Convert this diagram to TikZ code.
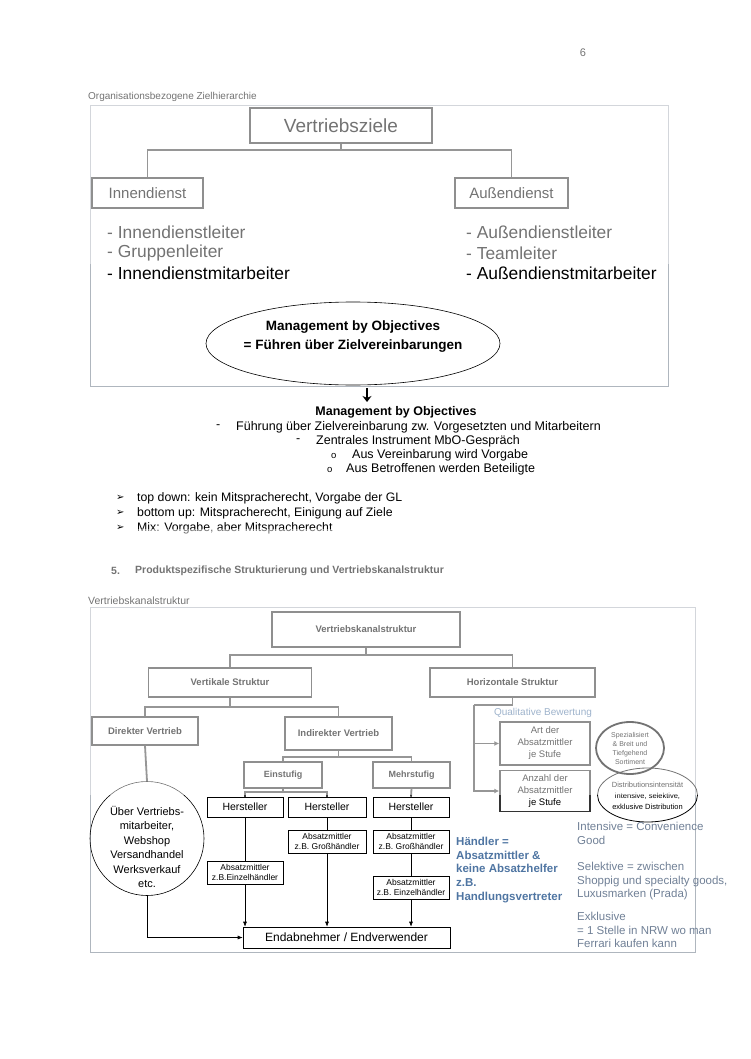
\documentclass[tikz,border=0pt]{standalone}
\usepackage{fontspec}
\setmainfont{Liberation Sans}
\newfontfamily\symfont{DejaVu Sans}
\usepackage{tikz}
\usetikzlibrary{positioning, arrows, arrows.meta, shapes.geometric}
\definecolor{handblue}{RGB}{79,117,162}
\definecolor{notegray}{RGB}{112,128,150}
\definecolor{framegray}{RGB}{175,182,190}
\newcommand{\fsz}[2]{\fontsize{#1}{#2}\selectfont}
\tikzset{
  dimbox/.style={draw=black!80, line width=1.5pt, inner sep=0pt, align=center},
  thinbox/.style={draw, line width=0.6pt, inner sep=0pt, align=center},
  txt/.style={anchor=west, inner sep=0pt},
  conn/.style={draw=black!75, line width=1.8pt},
  flow/.style={draw, line width=0.6pt, -{Latex[length=5pt,width=4pt]}},
  haze/.style={fill=white, opacity=0.45},
}

\begin{document}
\begin{tikzpicture}[x=1pt,y=-1pt]
\useasboundingbox (0,0) rectangle (750,1059);

% page number
\node[inner sep=0pt, font=\fsz{11}{13}] (pagenr) at (583,53) {6};

% Zielhierarchie
\node[txt, font=\fsz{10}{12}] (cap1) at (88,97) {Organisationsbezogene Zielhierarchie};
\draw[framegray, line width=0.9pt] (90,105) rectangle (668,386);
\node[dimbox, minimum width=182, minimum height=35, font=\fsz{19}{22}] (ziele) at (341,125.5) {Vertriebsziele};
\node[dimbox, minimum width=111, minimum height=30, font=\fsz{15}{18}] (innen) at (147.5,193) {Innendienst};
\node[dimbox, minimum width=113, minimum height=30, font=\fsz{15}{18}] (aussen) at (511.5,193) {Außendienst};
\coordinate (zbar) at (341,150);
\draw[conn] (ziele.south) -- (zbar);
\draw[conn] (innen.north) |- (zbar) -| (aussen.north);

\node[txt, font=\fsz{17.4}{20}] (il1) at (107,232) {- Innendienstleiter};
\node[txt, font=\fsz{17.4}{20}] (il2) at (107,253) {- Gruppenleiter};
\node[txt, font=\fsz{17.4}{20}] (il3) at (107,273) {- Innendienstmitarbeiter};
\node[txt, font=\fsz{17.4}{20}] (al1) at (466,232) {- Außendienstleiter};
\node[txt, font=\fsz{17.4}{20}] (al2) at (466,253) {- Teamleiter};
\node[txt, font=\fsz{17.4}{20}] (al3) at (466,273) {- Außendienstmitarbeiter};

\node[ellipse, draw, line width=0.6pt, minimum width=294, minimum height=83] (mboring) at (353,343.5) {};
\node[align=center, inner sep=0pt, font=\bfseries\fsz{13.5}{19}] (mbo) at (353,337) {Management by Objectives\\= Führen über Zielvereinbarungen};

% MbO text
\coordinate (arrtop) at (367,388);
\coordinate (arrbot) at (367,402);
\draw[line width=2.2pt, -{Stealth[length=6pt,width=9pt]}] (arrtop) -- (arrbot);
\node[inner sep=0pt, font=\bfseries\fsz{12.5}{14}] (mbohead) at (396,412) {Management by Objectives};
\node[txt, font=\fsz{12.5}{14}] (d1) at (216,427) {-};
\node[txt, font=\fsz{12.5}{14}] (t1) at (236,427) {Führung über Zielvereinbarung zw. Vorgesetzten und Mitarbeitern};
\node[txt, font=\fsz{12.5}{14}] (d2) at (296,441) {-};
\node[txt, font=\fsz{12.5}{14}] (t2) at (316,441) {Zentrales Instrument MbO-Gespräch};
\node[txt, font=\fsz{9.5}{11}] (o1) at (331,456) {o};
\node[txt, font=\fsz{12.5}{14}] (t3) at (352,455) {Aus Vereinbarung wird Vorgabe};
\node[txt, font=\fsz{9.5}{11}] (o2) at (327,470) {o};
\node[txt, font=\fsz{12.5}{14}] (t4) at (346,469) {Aus Betroffenen werden Beteiligte};

\node[txt, font=\symfont\fsz{10}{12}] (b1) at (116,498) {➢};
\node[txt, font=\fsz{12.3}{14}] (bt1) at (137,498) {top down: kein Mitspracherecht, Vorgabe der GL};
\node[txt, font=\symfont\fsz{10}{12}] (b2) at (116,513) {➢};
\node[txt, font=\fsz{12.3}{14}] (bt2) at (137,513) {bottom up: Mitspracherecht, Einigung auf Ziele};
\node[txt, font=\symfont\fsz{10}{12}] (b3) at (116,528) {➢};
\node[txt, font=\fsz{12.3}{14}] (bt3) at (137,528) {Mix: Vorgabe, aber Mitspracherecht};

% Vertriebskanalstruktur
\node[txt, font=\bfseries\fsz{10.5}{13}] (h5nr) at (111,571) {5.};
\node[txt, font=\bfseries\fsz{10.5}{13}] (h5) at (135,571) {Produktspezifische Strukturierung und Vertriebskanalstruktur};
\node[txt, font=\fsz{10.5}{13}] (cap2) at (88,601) {Vertriebskanalstruktur};
\draw[framegray, line width=0.9pt] (90,607) rectangle (695,952);

\node[dimbox, minimum width=188, minimum height=35, font=\bfseries\fsz{9.5}{12}] (vks) at (366,629.5) {Vertriebskanalstruktur};
\node[dimbox, minimum width=163, minimum height=29, font=\bfseries\fsz{9.5}{12}] (vert) at (230,682.5) {Vertikale Struktur};
\node[dimbox, minimum width=165, minimum height=29, font=\bfseries\fsz{9.5}{12}] (hor) at (512.5,682.5) {Horizontale Struktur};
\node[dimbox, minimum width=106, minimum height=28, font=\bfseries\fsz{9.5}{12}] (dir) at (145,731) {Direkter Vertrieb};
\node[dimbox, minimum width=107, minimum height=33, font=\bfseries\fsz{9.5}{12}] (ind) at (338.5,733.5) {Indirekter Vertrieb};
\node[dimbox, minimum width=78, minimum height=26, font=\bfseries\fsz{9}{11}] (ein) at (283,775) {Einstufig};
\node[dimbox, minimum width=77, minimum height=26, font=\bfseries\fsz{9}{11}] (mehr) at (411.5,775) {Mehrstufig};

\coordinate (vbar) at (366,655);
\draw[conn] (vks.south) -- (vbar);
\draw[conn] (vert.north) |- (vbar) -| (hor.north);
\coordinate (sbar) at (230,707);
\draw[conn] (vert.south) -- (sbar);
\draw[conn] (dir.north) |- (sbar) -| (ind.north);
\coordinate (ibar) at (338.5,757);
\draw[conn] (ind.south) -- (ibar);
\draw[conn] (ein.north) |- (ibar) -| (mehr.north);

\node[font=\fsz{10}{12}, text=handblue, inner sep=0pt] (qual) at (543,713) {Qualitative Bewertung};
\node[dimbox, minimum width=90, minimum height=43, font=\fsz{9.5}{12}] (art) at (545,743.5) {Art der\\Absatzmittler\\je Stufe};
\node[dimbox, minimum width=90, minimum height=41, font=\fsz{9.5}{12}] (anz) at (545,791) {Anzahl der\\Absatzmittler\\je Stufe};
\node[ellipse, draw, line width=1.8pt, minimum width=68, minimum height=52] (ring1) at (630,748) {};
\node[align=center, inner sep=0pt, font=\fsz{7}{9}] (sort) at (630,748) {Spezialisiert\\\& Breit und\\Tiefgehend\\Sortiment};
\node[ellipse, draw, line width=0.8pt, minimum width=100, minimum height=54] (ring2) at (647.5,795) {};
\node[align=center, inner sep=0pt, font=\fsz{7.5}{11}] (dist) at (647.5,796) {Distributionsintensität\\intensive, selektive,\\exklusive Distribution};
\coordinate (hbar) at (474,705);
\draw[conn] (hor.south) |- (hbar);
\draw[conn, -{Latex[length=5pt,width=5pt]}] (hbar) |- (art.west);
\draw[conn, -{Latex[length=5pt,width=5pt]}] (hbar) |- (anz.west);

% Kanaele
\node[thinbox, minimum width=76, minimum height=20, font=\fsz{10.5}{12}] (h1) at (245,807) {Hersteller};
\node[thinbox, minimum width=78, minimum height=20, font=\fsz{10.5}{12}] (h2) at (327,807) {Hersteller};
\node[thinbox, minimum width=76, minimum height=20, font=\fsz{10.5}{12}] (h3) at (411,807) {Hersteller};
\node[thinbox, minimum width=76, minimum height=23, font=\fsz{8.5}{10}] (a1) at (245,872.5) {Absatzmittler\\z.B.Einzelhändler};
\node[thinbox, minimum width=78, minimum height=23, font=\fsz{8.5}{10}] (a2) at (327,841.5) {Absatzmittler\\z.B. Großhändler};
\node[thinbox, minimum width=76, minimum height=23, font=\fsz{8.5}{10}] (a3) at (411,841.5) {Absatzmittler\\z.B. Großhändler};
\node[thinbox, minimum width=76, minimum height=23, font=\fsz{8.5}{10}] (a4) at (411,887.5) {Absatzmittler\\z.B. Einzelhändler};
\node[thinbox, minimum width=207, minimum height=21, font=\fsz{12}{14}] (endab) at (346.5,937.5) {Endabnehmer / Endverwender};
\node[circle, draw, line width=0.6pt, minimum size=114, inner sep=0pt] (direkt) at (147,838.5) {};
\node[align=center, inner sep=0pt, font=\fsz{11}{14.5}] (direkttxt) at (147,847) {Über Vertriebs-\\mitarbeiter,\\Webshop\\Versandhandel\\Werksverkauf\\etc.};

\coordinate (ebar) at (283,792);
\draw[conn] (ein.south) -- (ebar);
\draw[conn] (h1.north) |- (ebar) -| (h2.north);
\draw[conn] (mehr.south) -- (h3.north);
\draw[conn] (dir.south) -- (direkt.north);

\draw[line width=0.6pt] (h1) -- (a1);
\draw[flow] (a1) -- (a1 |- endab.north);
\draw[line width=0.6pt] (h2) -- (a2);
\draw[flow] (a2) -- (a2 |- endab.north);
\draw[line width=0.6pt] (h3) -- (a3);
\draw[line width=0.6pt] (a3) -- (a4);
\draw[flow] (a4) -- (a4 |- endab.north);
\draw[flow] (direkt.south) |- (endab.west);

\node[anchor=north west, align=left, inner sep=0pt, text=handblue, font=\bfseries\fsz{11.5}{13.7}] (haendler) at (456,837) {Händler =\\Absatzmittler \&\\keine Absatzhelfer\\z.B.\\Handlungsvertreter};
\node[anchor=north west, align=left, inner sep=0pt, text=notegray, font=\fsz{11.5}{13.5}] (intens) at (577,822) {Intensive = Convenience\\Good};
\node[anchor=north west, align=left, inner sep=0pt, text=notegray, font=\fsz{11.5}{13.5}] (selekt) at (577,862) {Selektive = zwischen\\Shoppig und specialty goods,\\Luxusmarken (Prada)};
\node[anchor=north west, align=left, inner sep=0pt, text=notegray, font=\fsz{11.5}{13.5}] (exkl) at (577,912) {Exklusive\\= 1 Stelle in NRW wo man\\Ferrari kaufen kann};

% blurred parts
\fill[haze] (575,40) rectangle (592,66);
\fill[haze] (84,86) rectangle (674,264);
\fill[haze] (110,529) rectangle (345,542);
\fill[haze] (100,560) rectangle (520,582);
\fill[haze] (84,592) rectangle (700,795);
\end{tikzpicture}
\end{document}
